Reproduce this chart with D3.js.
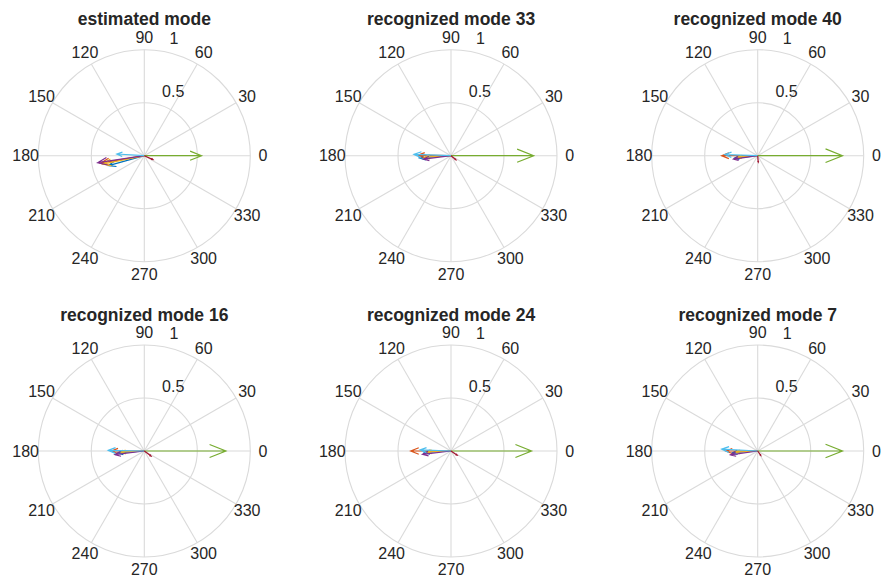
<!DOCTYPE html>
<html>
<head>
<meta charset="utf-8">
<script src="https://cdn.jsdelivr.net/npm/d3@7"></script>
<style>
  body { margin: 0; background: #fff; }
  text { font-family: "Liberation Sans", Arial, sans-serif; fill: #262626; }
  .title { font-weight: bold; font-size: 17.5px; }
  .tick { font-size: 16px; }
</style>
</head>
<body>
<script>
(function(){

    //panel titles, left to right, top to bottom
    var titles = ["estimated mode", "recognized mode 33", "recognized mode 40",
                  "recognized mode 16", "recognized mode 24", "recognized mode 7"];

    //series colours (matlab default order)
    var seriesColors = ["#0072BD", "#D95319", "#EDB120", "#7E2F8E", "#77AC30", "#4DBEEE", "#A2142F"];

    //vector magnitudes, one row per panel, one entry per series
    var magnitudes = [
        [0.35, 0.42, 0.40, 0.445, 0.54, 0.26, 0.09],
        [0.30, 0.31, 0.25, 0.26, 0.78, 0.35, 0.06],
        [0.22, 0.34, 0.19, 0.23, 0.80, 0.31, 0.06],
        [0.25, 0.31, 0.22, 0.28, 0.77, 0.34, 0.08],
        [0.25, 0.38, 0.23, 0.27, 0.76, 0.29, 0.07],
        [0.24, 0.30, 0.21, 0.26, 0.80, 0.34, 0.05]
    ];

    //vector angles in degrees
    var angles = [
        [195.5, 189.7, 191.4, 188.5, 0, 176.5, -24],
        [184, 179, 183, 187, 0, 178, -40],
        [186, 180, 184, 188, 0, 178, -85],
        [184, 180, 183, 187, 0, 179, -37],
        [183, 180, 182, 186.6, 0, 178, -34],
        [184, 180, 183, 188, 0, 177, -55]
    ];

    //grid
    var ringValues = [0.5, 1];
    var ringLabels = ["0.5", "1"];
    var spokeAngles = d3.range(0, 360, 30);

    var width = 882, height = 581, R = 106;

    var svg = d3.select("body").append("svg")
        .attr("width", width)
        .attr("height", height);

    var col = d3.scaleLinear().domain([0, 2]).range([144.3, 757.7]);
    var row = d3.scaleLinear().domain([0, 1]).range([155.7, 451]);
    var r = d3.scaleLinear().domain([0, 1]).range([0, R]);

    var rad = function(a){ return a * Math.PI / 180; };
    var c82 = Math.cos(rad(82)), s82 = Math.sin(rad(82));

    titles.forEach(function(t, p){
        var g = svg.append("g")
            .attr("transform", "translate(" + col(p % 3) + "," + row(Math.floor(p / 3)) + ")");

        //spokes
        g.selectAll(".spoke").data(spokeAngles).enter().append("line")
            .attr("x1", 0).attr("y1", 0)
            .attr("x2", function(a){ return r(1) * Math.cos(rad(a)); })
            .attr("y2", function(a){ return -r(1) * Math.sin(rad(a)); })
            .attr("stroke", "#dadada").attr("stroke-width", 1.1);

        //rings
        g.selectAll(".ring").data(ringValues).enter().append("circle")
            .attr("r", function(d){ return r(d); })
            .attr("fill", "none")
            .attr("stroke", "#dadada").attr("stroke-width", 1.1);

        //angle labels
        g.selectAll(".ang").data(spokeAngles).enter().append("text")
            .attr("class", "tick")
            .attr("x", function(a){ return r(1.12) * Math.cos(rad(a)); })
            .attr("y", function(a){ return -r(1.12) * Math.sin(rad(a)); })
            .attr("dy", "0.35em")
            .attr("text-anchor", "middle")
            .text(function(a){ return a; });

        //ring labels
        g.selectAll(".rlab").data(ringValues).enter().append("text")
            .attr("class", "tick")
            .attr("x", function(d){ return r(d + 0.025) * c82 + 10; })
            .attr("y", function(d){ return -r(d + 0.025) * s82 - 4; })
            .attr("text-anchor", "start")
            .text(function(d, i){ return ringLabels[i]; });

        //title
        g.append("text")
            .attr("class", "title")
            .attr("x", 0)
            .attr("y", -r(1.23))
            .attr("text-anchor", "middle")
            .text(t);

        //arrows
        var vecs = magnitudes[p].map(function(m, i){
            return { m: m, a: rad(angles[p][i]), c: seriesColors[i] };
        });
        g.selectAll(".arrow").data(vecs).enter().append("path")
            .attr("fill", "none")
            .attr("stroke", function(d){ return d.c; })
            .attr("stroke-width", 1.2)
            .attr("d", function(d){
                //matlab compass arrow: [0 1 .8 1 .8], [0 0 .08 0 -.08]
                var xx = [0, 1, 0.8, 1, 0.8], yy = [0, 0, 0.08, 0, -0.08];
                var ca = Math.cos(d.a), sa = Math.sin(d.a);
                return d3.line()(xx.map(function(x, k){
                    var px = r(d.m) * (x * ca - yy[k] * sa);
                    var py = r(d.m) * (x * sa + yy[k] * ca);
                    return [px, -py];
                }));
            });
    });
})();
</script>
</body>
</html>
